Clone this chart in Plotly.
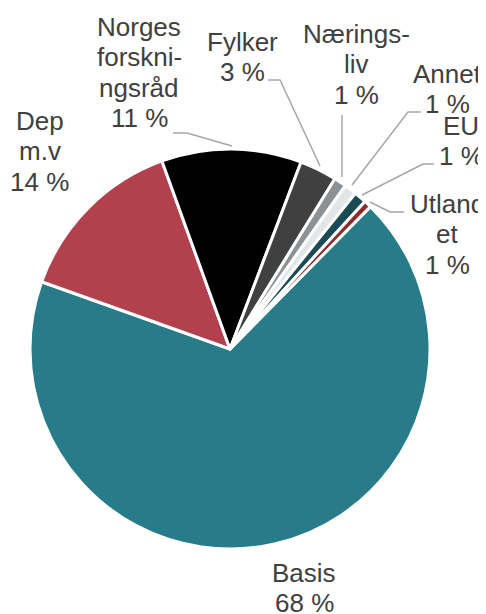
import plotly.graph_objects as go

# The page body adds an 8px margin, so the figure is drawn 8px in from the corner
OFF = 8
W, H = 486 - OFF, 614 - OFF

categories = ["Basis", "Dep m.v", "Norges forskningsråd", "Fylker", "Næringsliv", "Annet", "EU", "Utlandet"]
values = [68, 14, 11.3, 3, 1.0, 1.0, 1.0, 0.6]
label_lines = [
    ["Basis"],
    ["Dep", "m.v"],
    ["Norges", "forskni-", "ngsråd"],
    ["Fylker"],
    ["Nærings-", "liv"],
    ["Annet"],
    ["EU"],
    ["Utland", "et"],
]
colors = ["#287C89", "#B3414D", "#000000", "#404040", "#8C9196", "#E3E6E9", "#1A4B55", "#8B2A2A"]

# label block: centre x and centre y of the first line (screen pixels)
label_pos = [(304, 573), (40, 121), (139, 27), (242, 42), (356, 34), (447, 74), (461, 126), (447, 204)]
LINE_GAP = 30.3
leaders = [
    None,
    None,
    [(173, 133), (187, 133), (232, 146)],
    [(268, 80), (280, 80), (320, 166)],
    [(342, 115), (342, 177)],
    [(421, 112), (408, 112), (352, 185)],
    [(434, 164), (423, 164), (362, 195)],
    [(404, 212), (390, 212), (370, 202)],
]

cx, cy, r = 230, 349, 200


def px(x):
    return (x - OFF) / W


def py(y):
    return 1 - (y - OFF) / H


fig = go.Figure(go.Pie(
    labels=categories,
    values=values,
    sort=False,
    direction="clockwise",
    rotation=44.6,
    marker=dict(colors=colors, line=dict(color="#FFFFFF", width=3)),
    textinfo="none",
    hoverinfo="label+percent",
    showlegend=False,
    domain=dict(x=[px(cx - r), px(cx + r)], y=[py(cy + r), py(cy - r)]),
))

total = sum(values)
annotations = []
for lines, v, (lx, ly) in zip(label_lines, values, label_pos):
    pct = round(v / total * 100)
    for i, line in enumerate(lines + [f"{pct} %"]):
        annotations.append(dict(
            x=px(lx), y=py(ly + i * LINE_GAP), xref="paper", yref="paper",
            text=line, showarrow=False, xanchor="center", yanchor="middle",
            align="center", borderpad=0,
            font=dict(family="Liberation Sans, Arial, sans-serif", size=26, color="#404040"),
        ))

shapes = []
for pts in leaders:
    if not pts:
        continue
    path = "M " + " L ".join(f"{px(x)},{py(y)}" for x, y in pts)
    shapes.append(dict(type="path", xref="paper", yref="paper", path=path,
                       line=dict(color="#A6A6A6", width=1.5)))

fig.update_layout(
    width=W, height=H,
    margin=dict(l=0, r=0, t=0, b=0),
    paper_bgcolor="#FFFFFF",
    plot_bgcolor="#FFFFFF",
    annotations=annotations,
    shapes=shapes,
)

fig.write_html("out.html")
